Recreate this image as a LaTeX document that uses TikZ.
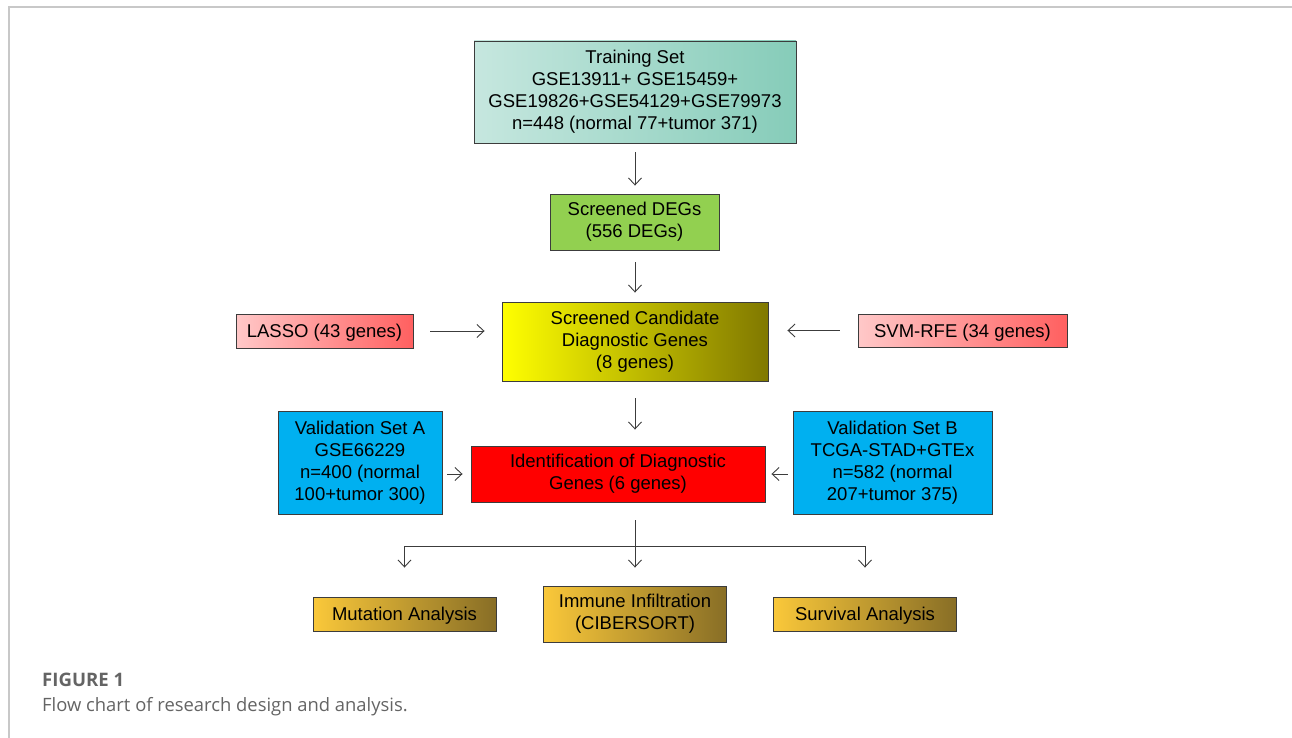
\documentclass[tikz,border=0pt]{standalone}
\usepackage{fontspec}
\setmainfont{Liberation Sans}
\newfontfamily\capfont{Open Sans}
\usetikzlibrary{arrows.meta}
\definecolor{tealL}{RGB}{198,231,223}
\definecolor{tealR}{RGB}{134,204,185}
\definecolor{degGreen}{RGB}{146,208,80}
\definecolor{pinkL}{RGB}{255,200,200}
\definecolor{pinkR}{RGB}{255,96,96}
\definecolor{valBlue}{RGB}{0,176,240}
\definecolor{goldL}{RGB}{250,200,58}
\definecolor{goldR}{RGB}{136,110,38}
\definecolor{yellowM}{RGB}{232,232,0}
\definecolor{oliveR}{RGB}{128,120,0}
\definecolor{frameGray}{RGB}{200,200,200}
\definecolor{capGray}{RGB}{100,100,100}
\definecolor{lineGray}{RGB}{60,60,60}

\begin{document}
\begin{tikzpicture}[x=1pt, y=-1pt,
  box/.style={draw=lineGray, line width=0.9pt, align=center, inner sep=0pt,
    font=\fontsize{18.5}{22}\selectfont, execute at begin node={\rule{0pt}{17.5pt}}},
  arr/.style={draw=lineGray, line width=0.9pt, -{Straight Barb[length=7pt,width=13pt]}},
  gold/.style={box, left color=goldL, right color=goldR, minimum width=183pt},
  captext/.style={anchor=base west, inner sep=0pt, text=capGray},
]
\useasboundingbox (0,0) rectangle (1292,738);

\draw[frameGray, line width=1.3pt] (9,738) -- (9,7) -- (1292,7);

% boxes
\node[box, minimum width=322pt, minimum height=102pt, left color=tealL, right color=tealR] (train) at (635,92)
  {Training Set\\GSE13911+ GSE15459+\\GSE19826+GSE54129+GSE79973\\n=448 (normal 77+tumor 371)};
\node[box, minimum width=169pt, minimum height=56pt, fill=degGreen] (degs) at (634.5,222)
  {Screened DEGs\\(556 DEGs)};
\node[box, minimum width=266pt, minimum height=79pt, left color=yellow, middle color=yellowM, right color=oliveR] (cand) at (635,341.5)
  {Screened Candidate\\Diagnostic Genes\\(8 genes)};
\node[box, minimum width=177pt, minimum height=34pt, left color=pinkL, right color=pinkR] (lasso) at (324.5,331)
  {LASSO (43 genes)};
\node[box, minimum width=209pt, minimum height=33pt, left color=pinkL, right color=pinkR] (svm) at (962.5,330.5)
  {SVM-RFE (34 genes)};
\node[box, minimum width=164pt, minimum height=103pt, fill=valBlue] (valA) at (360,462.5)
  {Validation Set A\\GSE66229\\n=400 (normal\\100+tumor 300)};
\node[box, minimum width=294pt, minimum height=56pt, fill=red] (ident) at (618,474)
  {Identification of Diagnostic\\Genes (6 genes)};
\node[box, minimum width=199pt, minimum height=103pt, fill=valBlue] (valB) at (892.5,462.5)
  {Validation Set B\\TCGA-STAD+GTEx\\n=582 (normal\\207+tumor 375)};
\node[gold, minimum height=34pt] (mut) at (404.5,614) {Mutation Analysis};
\node[gold, minimum height=56pt] (immune) at (635,614) {Immune Infiltration\\(CIBERSORT)};
\node[gold, minimum height=34pt] (surv) at (865,614) {Survival Analysis};

% connectors
\draw[arr, shorten <=9pt, shorten >=8pt] (train.south -| 635,0) -- (degs.north -| 635,0);
\draw[arr, shorten <=12pt, shorten >=9pt] (degs.south -| 635,0) -- (cand.north -| 635,0);
\draw[arr, shorten <=17pt, shorten >=17pt] (lasso.east) -- (lasso.east -| cand.west);
\draw[arr, shorten <=18pt, shorten >=19pt] (svm.west) -- (svm.west -| cand.east);
\draw[arr, shorten <=17pt, shorten >=16pt] (cand.south) -- (cand.south |- ident.north);
\draw[arr, shorten <=5pt, shorten >=8pt] (valA.east |- ident.west) -- (ident.west);
\draw[arr, shorten <=5pt, shorten >=6pt] (valB.west |- ident.east) -- (ident.east);

\coordinate (split) at (635,546);
\draw[arr] ([yshift=-18pt]ident.south -| immune.north) -- ([yshift=18pt]immune.north);
\draw[draw=lineGray, line width=0.9pt] (mut.north |- split) -- (surv.north |- split);
\draw[arr] (mut.north |- split) -- ([yshift=29pt]mut.north);
\draw[arr] (surv.north |- split) -- ([yshift=29pt]surv.north);

% caption
\node[captext, font=\capfont\fontsize{18.6}{22}\selectfont\bfseries] (figlabel) at (42,686) {FIGURE 1};
\node[captext, font=\capfont\fontsize{18.4}{22}\selectfont] (figtext) at (42,711) {Flow chart of research design and analysis.};
\end{tikzpicture}
\end{document}
